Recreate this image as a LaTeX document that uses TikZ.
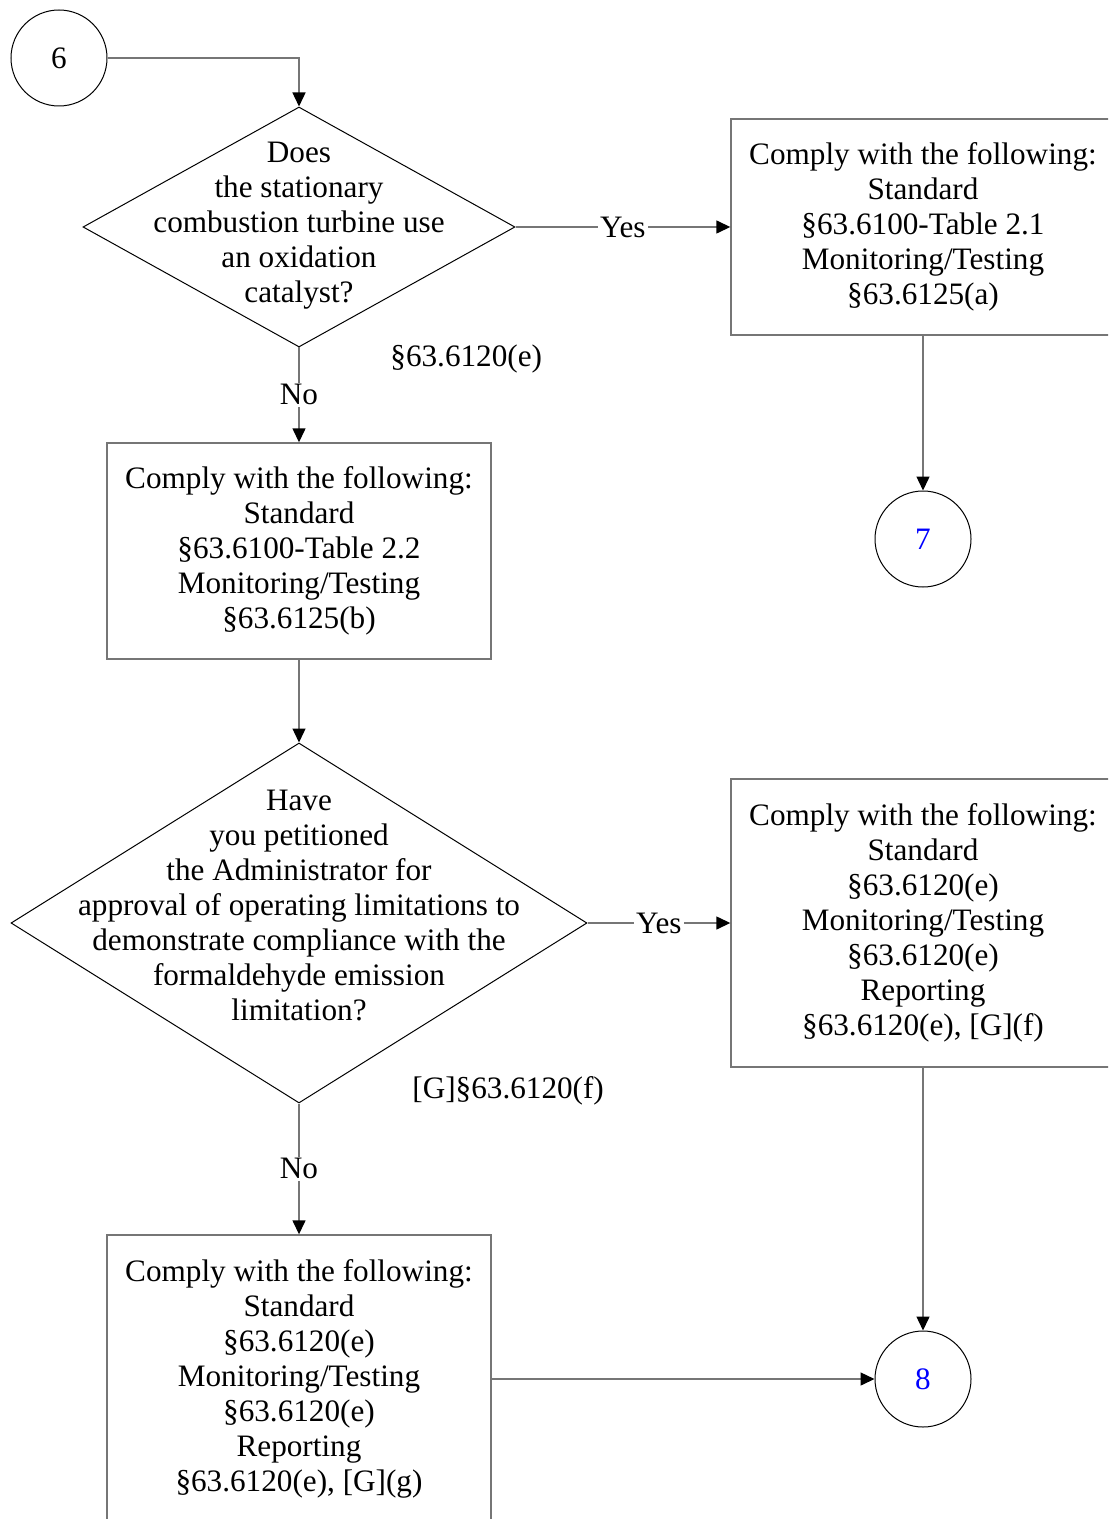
\documentclass[tikz,border=0pt]{standalone}
\usepackage{fontspec}
\setmainfont{Liberation Serif}
\usetikzlibrary{arrows.meta,shapes.geometric,positioning}
\definecolor{linegray}{RGB}{118,118,118}

\begin{document}
\begin{tikzpicture}[x=0.5pt,y=-0.5pt]
\tikzstyle{every node}=[font=\fontsize{15.6}{17.5}\selectfont]
\tikzstyle{conn}=[circle, draw, line width=0.5pt, minimum size=48pt, inner sep=0pt]
\tikzstyle{decide}=[diamond, draw, line width=0.5pt, inner sep=0pt]
\tikzstyle{comply}=[rectangle, draw=linegray, line width=0.7pt, minimum width=192pt, align=center, inner sep=0pt]
\tikzstyle{qtext}=[align=center, inner sep=0pt]
\tikzstyle{ref}=[anchor=west, inner sep=0pt]
\tikzstyle{flow}=[-{Triangle[length=7pt,width=6.5pt,color=black]}, draw=linegray, line width=0.7pt]
\tikzstyle{answer}=[fill=white, inner sep=1pt]
\useasboundingbox (0,0) rectangle (1108,1519);
\clip (0,0) rectangle (1108,1519);
\node[conn](c6) at (59,58) {6};
\node[decide, minimum width=216pt, minimum height=120pt](d1) at (299,227) {};
\node[qtext](q1) at (299,226) {Does\\the stationary\\combustion turbine use\\an oxidation\\catalyst?};
\node[comply, minimum height=108pt](b1) at (923,227) {Comply with the following:\\Standard\\§63.6100-Table 2.1\\Monitoring/Testing\\§63.6125(a)};
\node[ref](r1) at (390,359) {§63.6120(e)};
\node[conn, text=blue](c7) at (923,539) {7};
\node[comply, minimum height=108pt](b2) at (299,551) {Comply with the following:\\Standard\\§63.6100-Table 2.2\\Monitoring/Testing\\§63.6125(b)};
\node[decide, minimum width=288pt, minimum height=180pt](d2) at (299,923) {};
\node[qtext](q2) at (299,905) {Have\\you petitioned\\the Administrator for\\approval of operating limitations to\\demonstrate compliance with the\\formaldehyde emission\\limitation?};
\node[comply, minimum height=144pt](b3) at (923,923) {Comply with the following:\\Standard\\§63.6120(e)\\Monitoring/Testing\\§63.6120(e)\\Reporting\\§63.6120(e), [G](f)};
\node[ref](r2) at (412,1091) {[G]§63.6120(f)};
\node[comply, minimum height=144pt](b4) at (299,1379) {Comply with the following:\\Standard\\§63.6120(e)\\Monitoring/Testing\\§63.6120(e)\\Reporting\\§63.6120(e), [G](g)};
\node[conn, text=blue](c8) at (923,1379) {8};
\draw[flow] (c6) -| (d1.north);
\draw[flow] (d1.east) -- node[answer]{Yes} (b1.west);
\draw[flow] (d1.south) -- node[answer]{No} (b2.north);
\draw[flow] (b1.south) -- (c7.north);
\draw[flow] (b2.south) -- (d2.north);
\draw[flow] (d2.east) -- node[answer]{Yes} (b3.west);
\draw[flow] (d2.south) -- node[answer]{No} (b4.north);
\draw[flow] (b3.south) -- (c8.north);
\draw[flow] (b4.east) -- (c8.west);
\end{tikzpicture}
\end{document}
